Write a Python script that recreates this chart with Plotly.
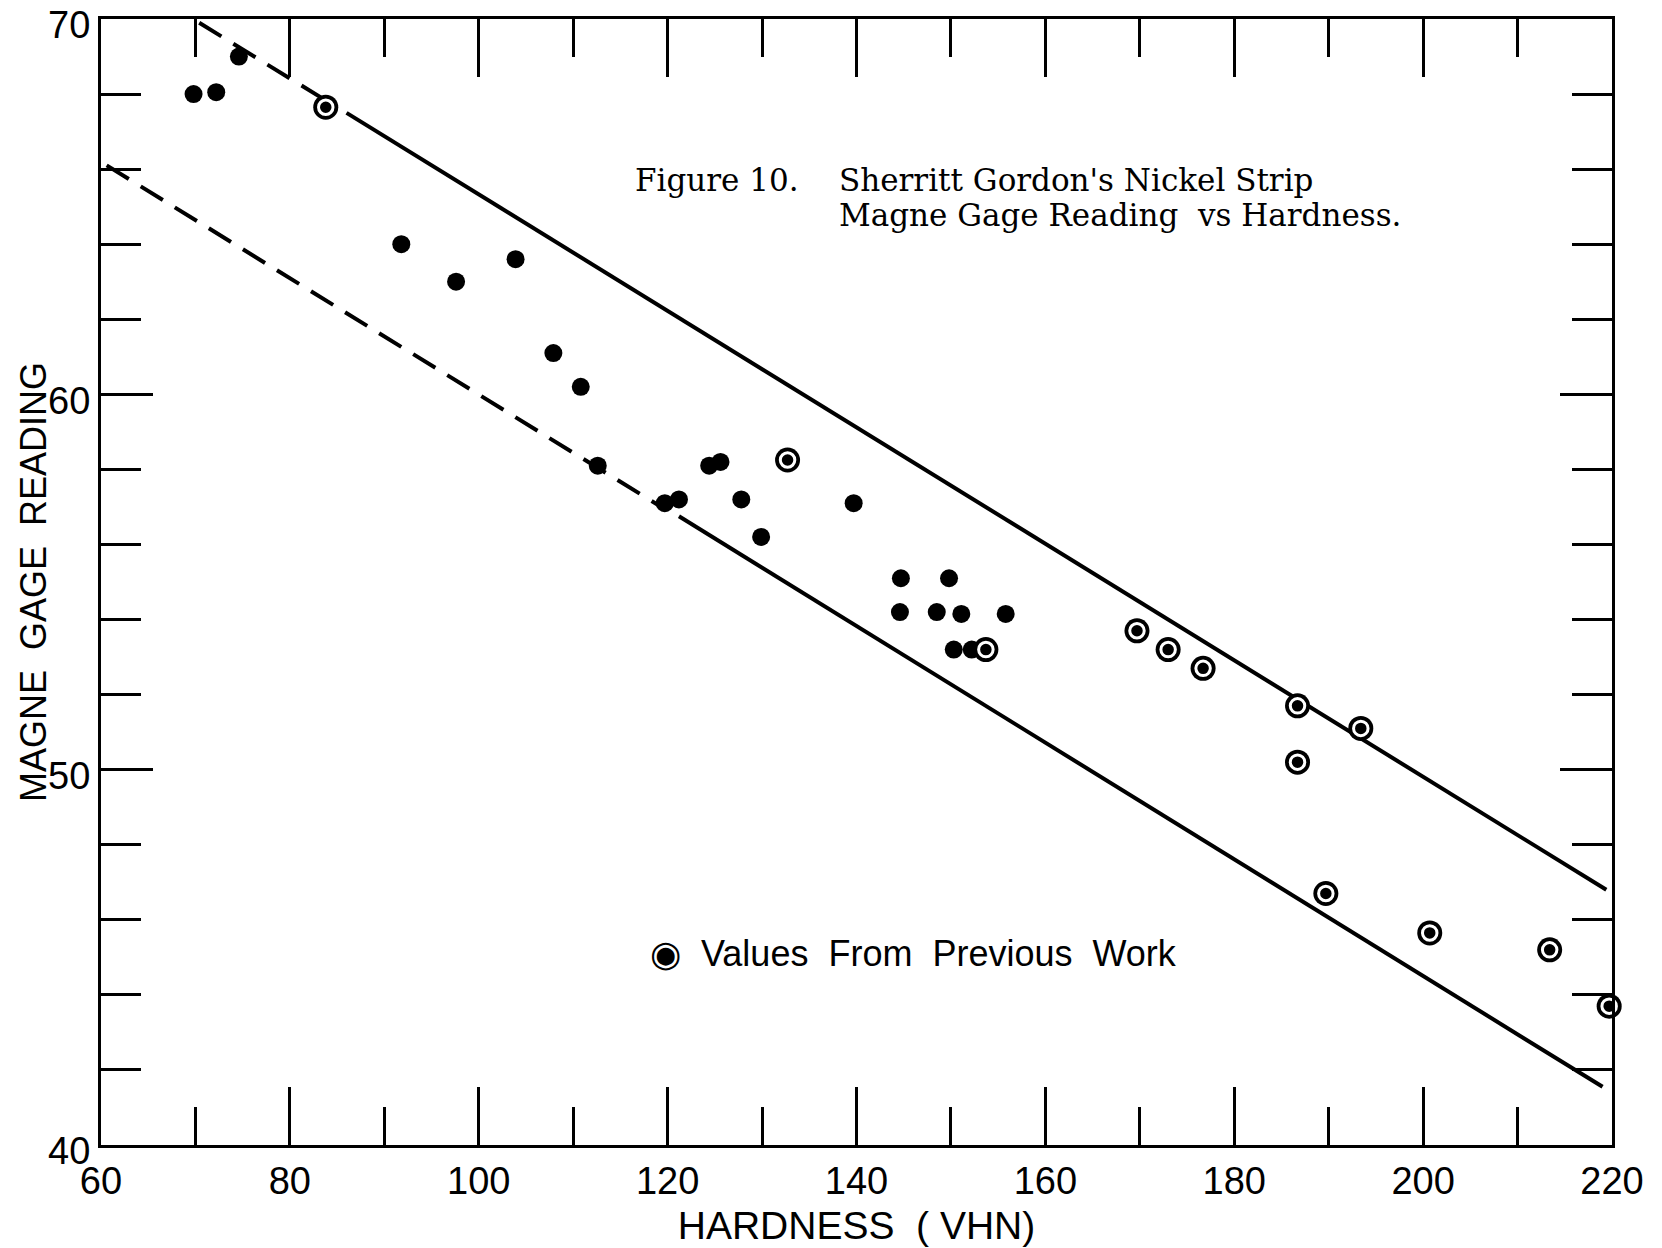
import plotly.graph_objects as go

# ---- data ----
# current-work measurements (solid dots)
hard_current = [69.8, 72.2, 74.6, 91.8, 97.6, 103.9, 107.9, 110.8, 112.6, 119.7,
                121.2, 124.4, 125.6, 127.8, 129.9, 139.7, 144.7, 144.6, 148.5, 149.8,
                151.1, 150.3, 152.2, 155.8]
gage_current = [68.0, 68.05, 69.0, 64.0, 63.0, 63.6, 61.1, 60.2, 58.1, 57.1,
                57.2, 58.1, 58.2, 57.2, 56.2, 57.1, 55.1, 54.2, 54.2, 55.1,
                54.15, 53.2, 53.2, 54.15]

# values from previous work (circled dots)
hard_prev = [83.8, 132.7, 153.7, 169.7, 173.0, 176.7, 186.7, 193.4, 186.7, 189.7,
             200.7, 213.4, 219.7]
gage_prev = [67.65, 58.25, 53.2, 53.7, 53.2, 52.7, 51.7, 51.1, 50.2, 46.7,
             45.65, 45.2, 43.7]

# band limits (upper and lower lines)
upper_dash_x = [70.4, 84.0]
upper_dash_y = [69.9, 67.8]
upper_solid_x = [86.0, 219.4]
upper_solid_y = [67.5, 46.8]
lower_dash_x = [60.6, 119.0]
lower_dash_y = [66.1, 57.05]
lower_solid_x = [121.2, 219.0]
lower_solid_y = [56.75, 41.55]

x_ticks = [60, 80, 100, 120, 140, 160, 180, 200, 220]
y_ticks = [40, 50, 60, 70]

x_title = "HARDNESS  ( VHN)"
y_title = "MAGNE  GAGE  READING"
caption_1 = "Figure 10."
caption_2a = "Sherritt Gordon's Nickel Strip"
caption_2b = "Magne Gage Reading  vs Hardness."
legend_text = "◉  Values  From  Previous  Work"

# ---- figure ----
fig = go.Figure()

line_style = dict(color="black", width=4)
fig.add_trace(go.Scatter(x=upper_dash_x, y=upper_dash_y, mode="lines",
                         line=dict(line_style, dash="26px,14px"), showlegend=False,
                         hoverinfo="skip"))
fig.add_trace(go.Scatter(x=upper_solid_x, y=upper_solid_y, mode="lines",
                         line=line_style, showlegend=False, hoverinfo="skip"))
fig.add_trace(go.Scatter(x=lower_dash_x, y=lower_dash_y, mode="lines",
                         line=dict(line_style, dash="26px,14px"), showlegend=False,
                         hoverinfo="skip"))
fig.add_trace(go.Scatter(x=lower_solid_x, y=lower_solid_y, mode="lines",
                         line=line_style, showlegend=False, hoverinfo="skip"))

fig.add_trace(go.Scatter(x=hard_current, y=gage_current, mode="markers",
                         marker=dict(symbol="circle", size=18, color="black"),
                         name="Present work", showlegend=False, cliponaxis=False))

# circled markers: outer black disc, then black dot with white ring
fig.add_trace(go.Scatter(x=hard_prev, y=gage_prev, mode="markers",
                         marker=dict(symbol="circle", size=25, color="black"),
                         showlegend=False, hoverinfo="skip", cliponaxis=False))
fig.add_trace(go.Scatter(x=hard_prev, y=gage_prev, mode="markers",
                         marker=dict(symbol="circle", size=14.5, color="black",
                                     line=dict(color="white", width=3)),
                         name="Values From Previous Work", showlegend=False,
                         cliponaxis=False))

axis_font = dict(family="Liberation Sans", size=38, color="black")

fig.update_xaxes(range=[60, 220], tickvals=x_ticks, ticktext=[str(v) for v in x_ticks],
                 showline=True, linewidth=3, linecolor="black", mirror="ticks",
                 ticks="inside", ticklen=58, tickwidth=3, tickcolor="black",
                 minor=dict(dtick=10, tick0=60, ticks="inside", ticklen=38, tickwidth=3,
                            tickcolor="black", showgrid=False),
                 showgrid=False, zeroline=False, tickfont=axis_font,
                 ticklabeloverflow="allow",
                 title=dict(text=x_title, font=dict(family="Liberation Sans", size=39,
                                                    color="black"), standoff=12))
fig.update_yaxes(range=[40, 70], tickvals=y_ticks, ticktext=[str(v) for v in y_ticks],
                 showline=True, linewidth=3, linecolor="black", mirror="ticks",
                 ticks="inside", ticklen=52, tickwidth=3, tickcolor="black",
                 minor=dict(dtick=2, tick0=40, ticks="inside", ticklen=40, tickwidth=3,
                            tickcolor="black", showgrid=False),
                 showgrid=False, zeroline=False, tickfont=axis_font,
                 ticklabeloverflow="allow", ticklabelshift=6)

# y-axis title as a rotated annotation, placed as in the reference
fig.add_annotation(xref="paper", yref="paper", x=-0.045, y=0.5, xanchor="center",
                   yanchor="middle", text=y_title, textangle=-90, showarrow=False,
                   font=dict(family="Liberation Sans", size=36, color="black"))

cap_font = dict(family="DejaVu Serif", size=31, color="black")
fig.add_annotation(xref="paper", yref="paper", x=0.352, y=0.857, xanchor="left",
                   yanchor="middle", text=caption_1, showarrow=False, font=cap_font)
fig.add_annotation(xref="paper", yref="paper", x=0.487, y=0.857, xanchor="left",
                   yanchor="middle", text=caption_2a, showarrow=False, font=cap_font)
fig.add_annotation(xref="paper", yref="paper", x=0.487, y=0.826, xanchor="left",
                   yanchor="middle", text=caption_2b, showarrow=False, font=cap_font)
fig.add_annotation(xref="paper", yref="paper", x=0.362, y=0.170, xanchor="left",
                   yanchor="middle", text=legend_text, showarrow=False,
                   font=dict(family="Liberation Sans", size=36, color="black"))

fig.update_layout(width=1662, height=1248, paper_bgcolor="white", plot_bgcolor="white",
                  margin=dict(l=101, r=50, t=19, b=103, autoexpand=False),
                  showlegend=False)

# remove the default page margin so the figure fills the window exactly
fig.write_html("out.html", config={"displayModeBar": False},
               post_script="document.body.style.margin='0';")
